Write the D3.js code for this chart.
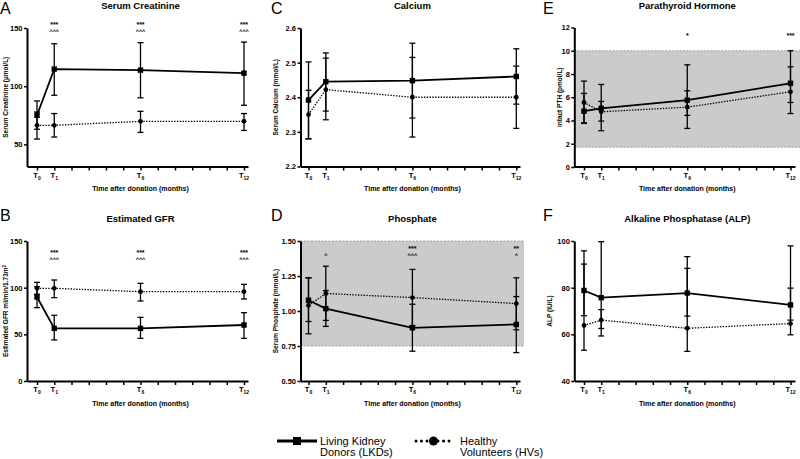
<!DOCTYPE html>
<html>
<head>
<meta charset="utf-8">
<script src="https://cdn.jsdelivr.net/npm/d3@7"></script>
<style>
  html, body { margin: 0; padding: 0; background: #fff; }
  svg { display: block; font-family: "Liberation Sans", Arial, sans-serif; }
</style>
</head>
<body>
<svg id="chart" width="800" height="459"></svg>
<script>
// ---------------- DATA ----------------
const timepoints = [0, 1, 6, 12];
const timeSubs = ["0", "1", "6", "12"];
const minorMonths = [2, 3, 4, 5, 7, 8, 9, 10, 11];

// A: Serum Creatinine (µmol/L)
const creatLKD = [75, 114.7, 113.8, 111.2];
const creatLKDErr = [[63, 87.3], [92.2, 136.5], [90, 137.4], [83.6, 137.9]];
const creatHV = [66.4, 66.4, 69.8, 69.8];
const creatHVErr = [[54.6, 77.8], [56.3, 76.5], [60.3, 78.4], [62, 76.5]];
const creatStars = ["", "***", "***", "***"];
const creatCarets = ["", "^^^", "^^^", "^^^"];

// B: Estimated GFR
const gfrLKD = [90, 56.4, 56.4, 60];
const gfrLKDErr = [[78.6, 101], [44, 70.4], [45.7, 68.2], [45.7, 73.2]];
const gfrHV = [99.3, 99.3, 95.7, 95.7];
const gfrHVErr = [[93, 105.7], [89.3, 108.2], [85.7, 104.6], [87.9, 103.6]];
const gfrStars = ["", "***", "***", "***"];
const gfrCarets = ["", "^^^", "^^^", "^^^"];

// C: Calcium
const caLKD = [2.392, 2.445, 2.448, 2.46];
const caLKDErr = [[2.28, 2.502], [2.36, 2.528], [2.34, 2.556], [2.38, 2.54]];
const caHV = [2.35, 2.422, 2.40, 2.40];
const caHVErr = [[2.28, 2.42], [2.335, 2.513], [2.285, 2.515], [2.31, 2.49]];

// D: Phosphate
const phosLKD = [1.077, 1.017, 0.88, 0.904];
const phosLKDErr = [[0.925, 1.237], [0.89, 1.146], [0.713, 1.048], [0.703, 1.103]];
const phosHV = [1.04, 1.125, 1.096, 1.053];
const phosHVErr = [[0.837, 1.237], [0.933, 1.32], [0.896, 1.297], [0.866, 1.237]];
const phosStars = ["", "", "***", "**"];
const phosCarets = ["", "^", "^^^", "^"];
const phosRange = [0.75, 1.5];

// E: Parathyroid Hormone
const pthLKD = [4.8, 5.05, 5.75, 7.2];
const pthLKDErr = [[3.8, 6.33], [3.12, 7.1], [3.32, 8.79], [4.6, 10.0]];
const pthHV = [5.55, 4.75, 5.15, 6.47];
const pthHVErr = [[3.75, 7.39], [3.95, 5.64], [4.44, 6.56], [5.55, 8.62]];
const pthStars = ["", "", "*", "***"];
const pthCarets = ["", "", "", ""];
const pthRange = [1.7, 10];

// F: Alkaline Phosphatase
const alpLKD = [78.8, 75.7, 77.7, 72.6];
const alpLKDErr = [[68, 95.8], [59.3, 99.7], [67.8, 88.3], [66.1, 97.9]];
const alpHV = [63.8, 66.1, 62.6, 64.6];
const alpHVErr = [[53.2, 90.1], [62.5, 70.6], [52.7, 93.3], [59.8, 79.8]];

// Tick values
const creatTicks = [50, 100, 150];
const gfrTicks = [0, 50, 100, 150];
const caTicks = [2.2, 2.3, 2.4, 2.5, 2.6];
const phosTicks = [0.5, 0.75, 1.0, 1.25, 1.5];
const pthTicks = [0, 2, 4, 6, 8, 10, 12];
const alpTicks = [40, 60, 80, 100];

const legendLabels = [["Living Kidney", "Donors (LKDs)"], ["Healthy", "Volunteers (HVs)"]];

// ---------------- LAYOUT ----------------
const cols = [
  { yAxisX: 27, x0: 37, x12: 244, end: 248, ylabX: 6, letterX: 0 },
  { yAxisX: 300.5, x0: 308.5, x12: 516.3, end: 520, ylabX: 276, letterX: 271 },
  { yAxisX: 574.3, x0: 584, x12: 790.5, end: 795, ylabX: 560, letterX: 543 }
];
const rows = [
  { axisY: 166.5, titleY: 9, letterY: 14 },
  { axisY: 381, titleY: 222, letterY: 221 }
];

const panels = [
  { letter: "A", title: "Serum Creatinine", ylabel: ["Serum Creatinine (µmol/L)"], col: 0, row: 0,
    domain: [31, 150], range: [166.5, 28], ticks: creatTicks, fmt: d3.format("d"),
    lkd: creatLKD, lkdErr: creatLKDErr, hv: creatHV, hvErr: creatHVErr,
    stars: creatStars, carets: creatCarets, sigY: 22.5 },
  { letter: "B", title: "Estimated GFR", ylabel: ["Estimated GFR ml/min/1.73m", "2"], col: 0, row: 1,
    domain: [0, 150], range: [381, 241], ticks: gfrTicks, fmt: d3.format("d"),
    lkd: gfrLKD, lkdErr: gfrLKDErr, hv: gfrHV, hvErr: gfrHVErr,
    stars: gfrStars, carets: gfrCarets, sigY: 250.5 },
  { letter: "C", title: "Calcium", ylabel: ["Serum Calcium (mmol/L)"], col: 1, row: 0,
    domain: [2.2, 2.6], range: [166.5, 28], ticks: caTicks, fmt: d3.format(".1f"),
    lkd: caLKD, lkdErr: caLKDErr, hv: caHV, hvErr: caHVErr },
  { letter: "D", title: "Phosphate", ylabel: ["Serum Phosphate (mmol/L)"], col: 1, row: 1,
    domain: [0.5, 1.5], range: [381, 241], ticks: phosTicks, fmt: d3.format(".2f"),
    lkd: phosLKD, lkdErr: phosLKDErr, hv: phosHV, hvErr: phosHVErr,
    stars: phosStars, carets: phosCarets, sigY: 246.5, band: phosRange },
  { letter: "E", title: "Parathyroid Hormone", ylabel: ["intact PTH (pmol/L)"], col: 2, row: 0,
    domain: [0, 12], range: [167, 27.5], ticks: pthTicks, fmt: d3.format("d"),
    lkd: pthLKD, lkdErr: pthLKDErr, hv: pthHV, hvErr: pthHVErr,
    stars: pthStars, carets: pthCarets, sigY: 34, band: pthRange, bandEnd: 800 },
  { letter: "F", title: "Alkaline Phosphatase (ALP)", ylabel: ["ALP (IU/L)"], col: 2, row: 1,
    domain: [40, 100], range: [381, 241], ticks: alpTicks, fmt: d3.format("d"),
    lkd: alpLKD, lkdErr: alpLKDErr, hv: alpHV, hvErr: alpHVErr, ylabX: 550 }
];

const svg = d3.select("#chart");

panels.forEach(p => {
  const c = cols[p.col], r = rows[p.row];
  const g = svg.append("g");
  const x = d3.scaleLinear().domain([0, 12]).range([c.x0, c.x12]);
  const y = d3.scaleLinear().domain(p.domain).range(p.range);

  // reference band
  if (p.band) {
    const bx1 = p.bandEnd || (c.end + 4);
    g.append("rect")
      .attr("x", c.yAxisX).attr("width", bx1 - c.yAxisX)
      .attr("y", y(p.band[1])).attr("height", y(p.band[0]) - y(p.band[1]))
      .attr("fill", "#cbcbcb");
    p.band.forEach(v => {
      g.append("line").attr("x1", c.yAxisX).attr("x2", bx1)
        .attr("y1", y(v)).attr("y2", y(v))
        .attr("stroke", "#8f8f8f").attr("stroke-width", 0.8).attr("stroke-dasharray", "2,1.5");
    });
  }

  // x axis
  const xa = d3.scaleLinear()
    .domain([x.invert(c.yAxisX), x.invert(c.end)])
    .range([c.yAxisX, c.end]);
  const xAxisG = g.append("g").attr("transform", `translate(0,${r.axisY})`)
    .call(d3.axisBottom(xa).tickValues(timepoints.concat(minorMonths)).tickFormat("").tickSize(4).tickSizeOuter(0));
  xAxisG.select(".domain").attr("stroke-width", 2);
  xAxisG.selectAll(".tick line").attr("stroke-width", 1.5);

  // x tick labels with subscripts
  timepoints.forEach((t, i) => {
    const tx = g.append("text").attr("x", x(t)).attr("y", r.axisY + 11)
      .attr("text-anchor", "middle").attr("font-size", 7.5).attr("font-weight", "bold");
    tx.append("tspan").text("T");
    tx.append("tspan").attr("font-size", 5).attr("dy", 2).text(timeSubs[i]);
  });

  // x axis title
  g.append("text").attr("x", x(6)).attr("y", r.axisY + 24.5)
    .attr("text-anchor", "middle").attr("font-size", 7).attr("font-weight", "bold")
    .text("Time after donation (months)");

  // y axis
  const yAxisG = g.append("g").attr("transform", `translate(${c.yAxisX},0)`)
    .call(d3.axisLeft(y).tickValues(p.ticks).tickFormat(p.fmt).tickSize(3).tickSizeOuter(0).tickPadding(1.5));
  yAxisG.select(".domain").attr("stroke-width", 2);
  yAxisG.selectAll(".tick line").attr("stroke-width", 1.5);
  yAxisG.selectAll(".tick text").attr("font-size", 7.5).attr("font-weight", "bold")
    .attr("font-family", "Liberation Sans, Arial, sans-serif").attr("fill", "#000");

  // y label
  const ylx = p.ylabX || c.ylabX;
  const ymid = (p.range[0] + p.range[1]) / 2;
  const yl = g.append("text")
    .attr("transform", `translate(${ylx},${ymid}) rotate(-90)`)
    .attr("text-anchor", "middle").attr("dy", "0.35em")
    .attr("font-size", 6.5).attr("font-weight", "bold");
  yl.append("tspan").text(p.ylabel[0]);
  if (p.ylabel[1]) yl.append("tspan").attr("font-size", 4.5).attr("dy", -2.5).text(p.ylabel[1]);

  // title
  g.append("text").attr("x", x(6)).attr("y", r.titleY)
    .attr("text-anchor", "middle").attr("font-size", 9.5).attr("font-weight", "bold")
    .text(p.title);

  // panel letter
  g.append("text").attr("x", c.letterX).attr("y", r.letterY)
    .attr("font-size", 16).text(p.letter);

  // lines
  const line = d3.line().x((d, i) => x(timepoints[i])).y(d => y(d));
  g.append("path").datum(p.hv).attr("d", line)
    .attr("fill", "none").attr("stroke", "#000").attr("stroke-width", 1.3)
    .attr("stroke-dasharray", "1.4,1.4");
  g.append("path").datum(p.lkd).attr("d", line)
    .attr("fill", "none").attr("stroke", "#000").attr("stroke-width", 1.8);

  // error bars
  const drawErr = (errs) => {
    errs.forEach((e, i) => {
      const cx = x(timepoints[i]);
      g.append("line").attr("x1", cx).attr("x2", cx).attr("y1", y(e[0])).attr("y2", y(e[1]))
        .attr("stroke", "#000").attr("stroke-width", 1.3);
      e.forEach(v => {
        g.append("line").attr("x1", cx - 3).attr("x2", cx + 3).attr("y1", y(v)).attr("y2", y(v))
          .attr("stroke", "#000").attr("stroke-width", 1.3);
      });
    });
  };
  drawErr(p.hvErr);
  drawErr(p.lkdErr);

  // markers
  p.hv.forEach((v, i) => {
    g.append("circle").attr("cx", x(timepoints[i])).attr("cy", y(v)).attr("r", 2.4).attr("fill", "#000");
  });
  p.lkd.forEach((v, i) => {
    g.append("rect").attr("x", x(timepoints[i]) - 2.7).attr("y", y(v) - 2.7)
      .attr("width", 5.4).attr("height", 5.4).attr("fill", "#000");
  });

  // significance markers: stars (LKD vs HV) and carets (vs baseline)
  if (p.stars) {
    timepoints.forEach((t, i) => {
      const s = p.stars[i], k = p.carets ? p.carets[i] : "";
      const cx = x(t);
      const b1 = p.sigY + 4;
      if (s) g.append("text").attr("x", cx).attr("y", b1)
        .attr("text-anchor", "middle").attr("font-weight", "bold").attr("font-size", 7).text(s);
      if (k) g.append("text").attr("x", cx).attr("y", b1 + 6.6)
        .attr("text-anchor", "middle").attr("font-weight", "bold").attr("font-size", 5.5).text(k);
    });
  }
});

// ---------------- LEGEND ----------------
const lg = svg.append("g");
lg.append("line").attr("x1", 277).attr("x2", 317).attr("y1", 441).attr("y2", 441)
  .attr("stroke", "#000").attr("stroke-width", 3);
lg.append("rect").attr("x", 293).attr("y", 437).attr("width", 8).attr("height", 8).attr("fill", "#000");
lg.append("line").attr("x1", 416).attr("x2", 451).attr("y1", 441).attr("y2", 441)
  .attr("stroke", "#000").attr("stroke-width", 3).attr("stroke-linecap", "round")
  .attr("stroke-dasharray", "0,5.5");
lg.append("circle").attr("cx", 433.5).attr("cy", 441).attr("r", 4.5).attr("fill", "#000");
const legendX = [320, 460];
legendLabels.forEach((lines, k) => {
  const t = lg.append("text").attr("x", legendX[k]).attr("y", 445).attr("font-size", 11);
  lines.forEach((l, j) => t.append("tspan").attr("x", legendX[k]).attr("dy", j === 0 ? 0 : 11).text(l));
});
</script>
</body>
</html>
